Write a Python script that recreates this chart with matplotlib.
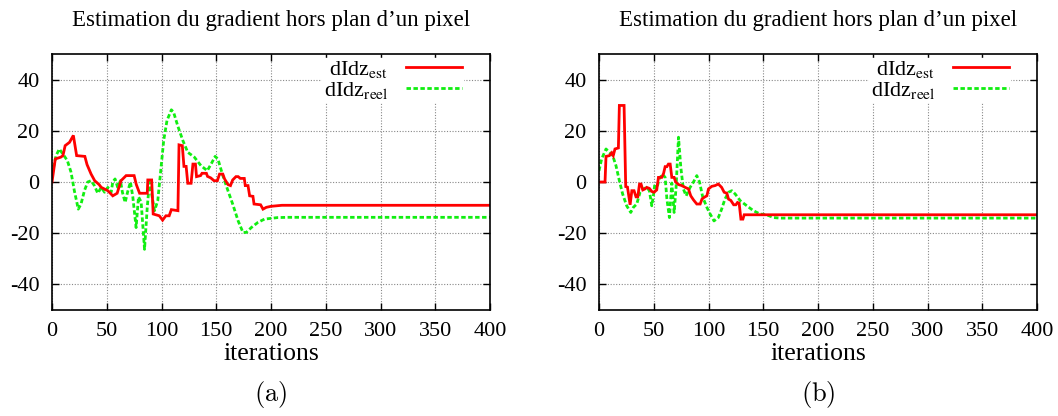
import matplotlib
matplotlib.use("Agg")
import matplotlib.pyplot as plt
import numpy as np

# ---------------- data ----------------
title = "Estimation du gradient hors plan d\u2019un pixel"
xlabel = "iterations"
panel_labels = ["(a)", "(b)"]
legend_labels = [r"dIdz$_{\mathrm{est}}$", r"dIdz$_{\mathrm{reel}}$"]
xticks = [0, 50, 100, 150, 200, 250, 300, 350, 400]
yticks = [-40, -20, 0, 20, 40]

# panel (a)
a_est_x = [0, 3, 8, 10, 12, 16, 19.5, 22.5, 30, 32, 35.7, 39, 43, 45, 51, 55.5, 59.5, 63,
           67.7, 75, 77, 80, 87, 87.5, 91, 92.4, 98, 101, 104, 107, 109, 115, 116, 119,
           120.5, 122.5, 124, 127, 128.7, 131, 132, 135.7, 137, 141, 142, 145, 148, 151,
           153, 156, 157.6, 160.7, 163, 165, 168, 170, 172, 175.6, 176.5, 179, 180.5,
           183.5, 184.5, 190.5, 192.7, 195.7, 200, 210, 400]
a_est_y = [0, 9, 9.7, 10.3, 14.2, 15.5, 18.2, 10.3, 10, 6.8, 3.1, 0.5, -1, -2.1, -3.4, -5.4,
           -4.4, 0.5, 2.5, 2.5, -1, -4.4, -4.4, 0.8, 0.8, -12.5, -13.2, -14.9, -13.2, -13.2,
           -10.8, -11.2, 14.5, 14.2, 6.1, 6.1, -0.5, -0.5, 7, 7, 2.1, 2.5, 3.4, 3.4, 2.2,
           1.6, 0.5, 0.5, 3.1, 3.1, 1.2, -1, -1.4, 0.8, 2.1, 2.1, 1.4, 1.4, -1.4, -1.4,
           -5.4, -5.6, -8.6, -8.9, -10.6, -9.9, -9.5, -9.1, -9.1]

a_reel_x = [0, 3.7, 6.7, 9.8, 14, 17.4, 20.4, 24, 26.5, 29.6, 32.6, 35.7, 38.7, 41.8, 45,
            48, 51, 54, 55.5, 57.6, 60, 62.5, 64.3, 66.8, 69, 71.6, 73.8, 76.8, 79, 81.4,
            84.5, 87, 89, 91, 93.6, 96.6, 99, 102, 105, 109, 111, 115, 119.5, 124, 130,
            136, 141.8, 145.4, 149, 151.5, 156, 160.7, 165, 170, 174.4, 177.4, 182, 188,
            194, 200, 206, 215, 400]
a_reel_y = [3, 10.3, 12.9, 11, 8.4, 3.8, -3.4, -10.6, -8.6, -3.4, 0, 0.5, -1.4, -4.4, -2.1,
            -4, -2.1, -4, 0, 1.2, -2.1, 0.5, -4, -8, -4, 0, -5.8, -17.8, -5.8, -7.8,
            -26.3, -9.8, 0, -4.6, -11.2, -7.3, 3.1, 16.2, 24, 28.2, 27.3, 21.7, 16.2,
            11.6, 9.7, 6.4, 4.4, 7.1, 10, 9, 2.5, -3.4, -8.6, -15.2, -19.7, -19.7, -17.8,
            -15.8, -14.5, -14.2, -13.9, -13.8, -13.8]

# panel (b)
b_est_x = [0, 5.5, 6.4, 9.5, 11.6, 13, 14.6, 17.7, 18.6, 22.9, 24.4, 26, 28.4, 30, 32,
           33.8, 35.4, 37, 38.4, 40, 42, 43.6, 46, 48.2, 50.3, 52.7, 54.3, 57.3, 59, 60.4,
           62, 63.4, 65, 66.5, 68.6, 70, 72.6, 75.6, 78.7, 81.7, 83.8, 86.3, 89.3, 92.4,
           94, 96, 98.5, 100, 103, 106, 109, 112, 114.3, 116.8, 118.3, 120.4, 123, 125,
           126.5, 128, 129.6, 131.4, 132.6, 400]
b_est_y = [0, 0, 10, 10.3, 11.4, 10.3, 12.9, 13.3, 29.9, 29.9, -1.8, -2, -8.9, -3.4, -3.4,
           -5.8, -5.8, -0.8, -0.8, -3.1, -2.7, -2.1, -2.5, -3.7, -4, -3.1, 1.8, 1.8, 3.4,
           6, 6, 7, 7, 1.8, 1.8, 0, -1, -1.4, -2.1, -2.7, -5.4, -7, -8.6, -8.6, -6.7, -6,
           -5.4, -2.7, -1.7, -1.4, -0.8, -2.1, -4, -4.4, -6.7, -7.2, -8.9, -8.9, -8,
           -8.3, -14.5, -14.5, -12.8, -12.8]

b_reel_x = [0, 2.4, 6.4, 9.5, 12.5, 15.5, 18.6, 21.6, 25.3, 29, 31.4, 34.5, 37.5, 40.5,
            43.6, 46, 48.2, 49.7, 51, 52.7, 55, 58, 60.4, 62, 64.3, 66.5, 68.6, 70.4,
            72.6, 74.7, 77, 79.6, 83.2, 86.3, 89.3, 91.8, 94.8, 98.5, 101.5, 105, 109,
            112, 115, 118.3, 121.3, 124.4, 129, 135, 141, 147, 153, 159.5, 165.5, 400]
b_reel_y = [4.4, 9, 12.9, 11.6, 10.3, 6.4, 0.5, -4.7, -9.3, -11.9, -9.9, -8.6, -4, -2.7,
            -2.1, -3.4, -9.3, -5.3, -0.7, -2.7, 1.2, 3.1, 1.8, -6.6, -13.9, -0.4, -11.9,
            -2.1, 17.5, 5.8, -2.7, -5.4, -2.1, 0, 2.5, 0, -6, -9.9, -12.5, -15.2, -13.9,
            -10.6, -6.7, -4, -3.4, -4.7, -7.3, -9.3, -11.2, -12.5, -12.8, -13.9, -14.1,
            -14.1]

panels = [
    (a_est_x, a_est_y, a_reel_x, a_reel_y),
    (b_est_x, b_est_y, b_reel_x, b_reel_y),
]

# ---------------- figure ----------------
W, H = 1058, 416
fig = plt.figure(figsize=(W / 100, H / 100), dpi=100)
serif = ["Liberation Serif", "DejaVu Serif"]

lefts = [52, 599]
ax_w = 438
ax_top, ax_bot = 54, 310

for i, (ex, ey, rx, ry) in enumerate(panels):
    l = lefts[i]
    ax = fig.add_axes([l / W, 1 - ax_bot / H, ax_w / W, (ax_bot - ax_top) / H])
    ax.plot(ex, ey, color="#ff0000", lw=2.0, solid_joinstyle="miter", zorder=3,
            label=legend_labels[0])
    ax.plot(rx, ry, color="#11ee11", lw=2.0, linestyle=(0, (1.6, 0.9)), zorder=2,
            label=legend_labels[1])
    ax.set_xlim(0, 400)
    ax.set_ylim(-50, 50)
    ax.set_xticks(xticks)
    ax.set_yticks(yticks)
    ax.set_xticklabels([str(t) for t in xticks], fontfamily=serif, fontsize=16)
    ax.set_yticklabels([str(t) for t in yticks], fontfamily=serif, fontsize=16)
    ax.tick_params(direction="in", length=5, width=1, top=True, right=True,
                   pad=9, colors="black")
    ax.tick_params(axis="y", pad=9)
    ax.grid(True, color="#888888", linestyle=(0, (1, 1.5)), lw=0.8)
    for sp in ax.spines.values():
        sp.set_linewidth(1.2)
        sp.set_zorder(6)
    ax.set_title(title, fontfamily=serif, fontsize=16.5, pad=20)
    ax.set_xlabel(xlabel, fontfamily=serif, fontsize=18.5, labelpad=1)
    leg = ax.legend(loc="upper right", markerfirst=False, frameon=True,
                    framealpha=1, edgecolor="white", fancybox=False,
                    prop={"family": serif, "size": 16}, handlelength=2.5,
                    handletextpad=0.8, labelspacing=0.0, borderpad=0.05,
                    borderaxespad=0.0, bbox_to_anchor=(0.938, 0.985))
    for t in leg.get_texts():
        t.set_ha("right")
        t.set_math_fontfamily("stix")
    leg.set_zorder(5)
    fig.text((l + ax_w / 2) / W, 1 - 395 / H, r"$\mathrm{" + panel_labels[i] + "}$",
             ha="center", va="center", fontsize=19, math_fontfamily="cm")

fig.savefig("out.png", dpi=100)
